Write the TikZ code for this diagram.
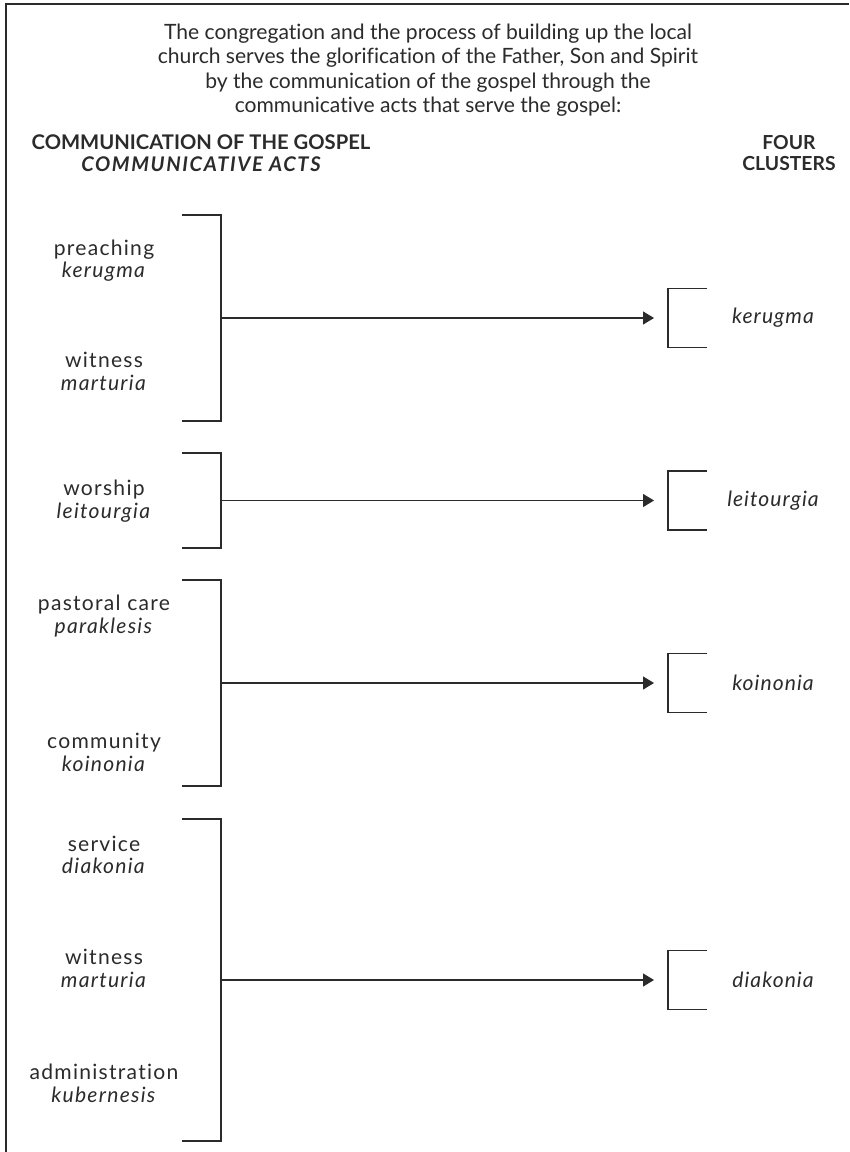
\documentclass[tikz,border=0pt]{standalone}
\usepackage{fontspec}
\setmainfont{Lato}[Ligatures=NoCommon]
\usepackage{xcolor}
\usepackage{tikz}
\usetikzlibrary{arrows.meta}

\definecolor{ink}{HTML}{2B2B2B}

\begin{document}
\begin{tikzpicture}[x=0.02cm, y=-0.02cm, line width=0.7pt, color=ink,
    intro/.style={align=center, font=\fontsize{12}{13.9}\selectfont},
    head/.style={align=center, font=\fontsize{11.5}{12.5}\selectfont\bfseries},
    act/.style={align=center, font=\fontsize{12}{12.8}\selectfont\addfontfeatures{LetterSpace=6}},
    cluster/.style={font=\fontsize{12}{12.8}\selectfont\itshape\addfontfeatures{LetterSpace=5}},
    bracket/.style={minimum width=0.78cm, inner sep=0pt, outer sep=0pt},
    flow/.style={-{Triangle[length=0.22cm, width=0.26cm]}, shorten >=0.28cm}]
    \useasboundingbox (0,0) rectangle (849,1152);

    % --- FRAME ---
    \draw[line width=1.1pt] (6,1152) -- (6,4) -- (849,4);

    % --- HEADINGS ---
    \node (intro) [intro] at (428,70) {The congregation and the process of building up the local\\
        church serves the glorification of the Father, Son and Spirit\\
        by the communication of the gospel through the\\
        communicative acts that serve the gospel:};
    \node (gospel) [head] at (201,153) {COMMUNICATION OF THE GOSPEL\\ \itshape\addfontfeatures{LetterSpace=8}COMMUNICATIVE ACTS};
    \node (four) [head, font=\fontsize{11}{12.5}\selectfont\bfseries] at (789,153) {FOUR\\ CLUSTERS};

    % --- COMMUNICATIVE ACTS (left) ---
    \node (preaching) [act] at (104,260.5) {preaching\\ \textit{kerugma}};
    \node (witness1) [act] at (104,371.5) {witness\\ \textit{marturia}};
    \node (worship) [act] at (104,501) {worship\\ \textit{leitourgia}};
    \node (pastoral) [act] at (104,616) {pastoral care\\ \textit{paraklesis}};
    \node (community) [act] at (104,752.5) {community\\ \textit{koinonia}};
    \node (service) [act] at (104,855) {service\\ \textit{diakonia}};
    \node (witness2) [act] at (104,968.5) {witness\\ \textit{marturia}};
    \node (admin) [act] at (104,1083.5) {administration\\ \textit{kubernesis}};

    \node (acts1) [bracket, minimum height=4.12cm] at (201.5,318) {};
    \node (acts2) [bracket, minimum height=1.9cm] at (201.5,500.5) {};
    \node (acts3) [bracket, minimum height=4.12cm] at (201.5,683) {};
    \node (acts4) [bracket, minimum height=6.44cm] at (201.5,980) {};

    % --- FOUR CLUSTERS (right) ---
    \node (cluster1) [bracket, minimum height=1.18cm] at (687.5,318) {};
    \node (cluster2) [bracket, minimum height=1.18cm] at (687.5,500.5) {};
    \node (cluster3) [bracket, minimum height=1.18cm] at (687.5,683) {};
    \node (cluster4) [bracket, minimum height=1.18cm] at (687.5,980) {};

    \node (kerugma) [cluster] at (773,318) {kerugma};
    \node (leitourgia) [cluster] at (773,500.5) {leitourgia};
    \node (koinonia) [cluster] at (773,683) {koinonia};
    \node (diakonia) [cluster] at (773,980) {diakonia};

    % Brackets
    \draw (acts1.north west) -- (acts1.north east) -- (acts1.south east) -- (acts1.south west);
    \draw (acts2.north west) -- (acts2.north east) -- (acts2.south east) -- (acts2.south west);
    \draw (acts3.north west) -- (acts3.north east) -- (acts3.south east) -- (acts3.south west);
    \draw (acts4.north west) -- (acts4.north east) -- (acts4.south east) -- (acts4.south west);
    \draw (cluster1.north east) -- (cluster1.north west) -- (cluster1.south west) -- (cluster1.south east);
    \draw (cluster2.north east) -- (cluster2.north west) -- (cluster2.south west) -- (cluster2.south east);
    \draw (cluster3.north east) -- (cluster3.north west) -- (cluster3.south west) -- (cluster3.south east);
    \draw (cluster4.north east) -- (cluster4.north west) -- (cluster4.south west) -- (cluster4.south east);

    % Arrows
    \draw[flow] (acts1.east) -- (cluster1.west);
    \draw[flow] (acts2.east) -- (cluster2.west);
    \draw[flow] (acts3.east) -- (cluster3.west);
    \draw[flow] (acts4.east) -- (cluster4.west);

\end{tikzpicture}
\end{document}
